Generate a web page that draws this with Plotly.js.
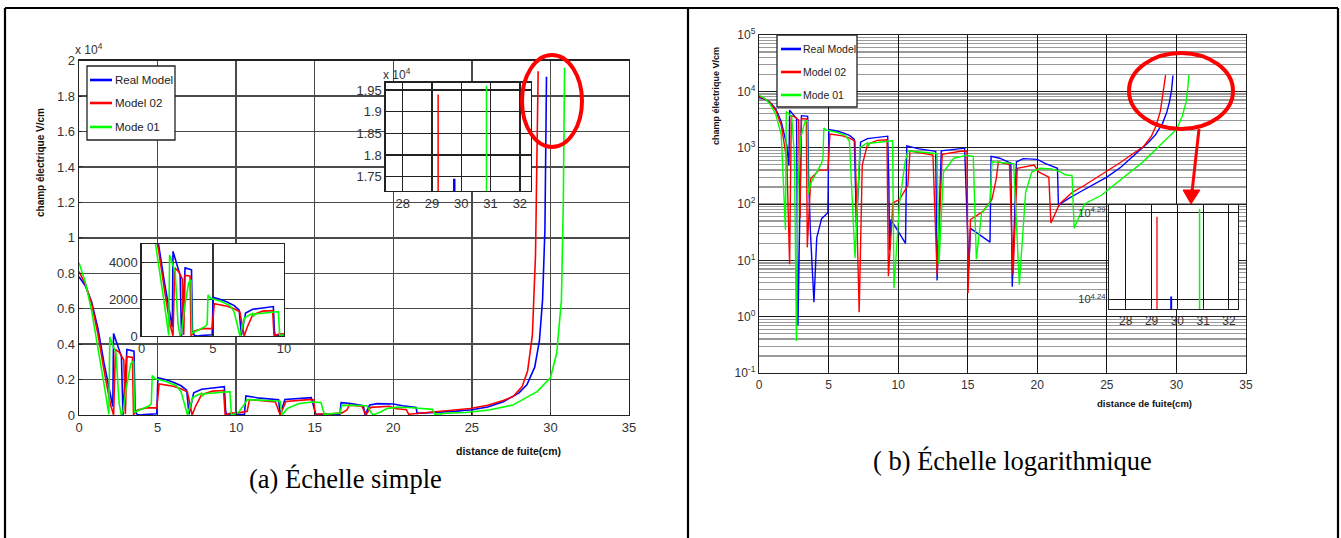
<!DOCTYPE html>
<html><head><meta charset="utf-8">
<script src="https://cdn.plot.ly/plotly-3.0.1.min.js"></script>
<style>html,body{margin:0;padding:0;background:#fff}#chart{width:1341px;height:538px}</style>
</head><body><div id="chart"></div>
<script>
// ---- data (distance de fuite in cm, champ électrique in V/cm) ----
const seriesNames = ['Real Model', 'Model 02', 'Mode 01'];
const seriesColors = ['#0000ff', '#ff0000', '#00ff00'];

const realX = [0,0.4,0.8,1.2,1.6,2.0,2.15,2.2,2.45,2.7,2.8,3.05,3.5,3.57,3.7,3.95,4.15,4.5,4.95,5.02,5.5,6.0,6.5,6.85,7.0,7.3,7.8,8.5,9.0,9.25,9.33,9.38,9.48,10.53,10.62,11.5,12.7,12.8,13.1,14.0,14.78,15.08,15.2,16.6,16.68,17.3,17.7,18.1,18.2,18.5,19.0,20.0,20.6,21.45,21.52,22.2,23.0,24.0,25.0,26.0,27.0,28.0,28.5,29.0,29.3,29.5,29.65,29.72,29.75];
const realY = [7800,7300,6400,4900,2900,1100,480,4600,3900,3300,0.7,3700,3600,250,30,1.8,25,55,70,2100,2000,1850,1650,1400,40,1250,1450,1520,1560,1600,250,15,53,20,1080,950,860,4.4,880,930,980,7.4,37,21,700,650,580,530,3.4,560,640,620,520,430,95,123,160,220,300,450,750,1250,1700,2700,4200,6500,10500,15000,19100];

const model02X = [0,0.4,0.8,1.2,1.6,2.0,2.2,2.32,2.6,2.85,2.95,3.05,3.4,3.47,3.72,4.3,4.95,5.1,6.0,6.5,6.9,7.2,7.42,7.8,8.5,9.2,9.3,9.63,10.1,10.7,10.85,12.5,12.8,13.17,14.6,14.95,15.02,15.2,16.1,16.74,17.05,17.2,18.0,18.26,18.56,19.77,20.1,20.83,20.98,21.6,22.5,23.4,24.9,26.0,27.0,27.64,28.2,28.55,28.85,29.05,29.15,29.22];
const model02Y = [8100,7400,6300,4600,2500,600,8.5,3700,3500,3100,56,3300,3250,17,280,400,400,1750,1620,1480,1300,1.2,490,1150,1350,1380,5.2,105,120,215,870,740,5.6,760,870,860,2.6,53,74,120,280,560,500,5.6,430,490,370,300,46,100,160,215,370,550,820,1050,1600,2500,4500,9000,14000,19400];

const mode01X = [0,0.4,0.8,1.2,1.6,1.9,1.96,2.15,2.35,2.55,2.69,2.8,3.0,3.3,3.47,3.53,3.75,4.1,4.48,4.6,4.66,4.85,5.5,6.2,6.5,6.9,7.25,7.8,7.85,7.95,9.0,9.6,9.7,10.1,10.5,10.7,12.0,12.8,12.93,13.26,14.0,14.9,15.4,15.62,16.0,16.6,16.74,17.5,18.3,18.71,19.16,19.6,20.2,21.0,21.6,22.0,22.5,22.65,23.4,24.6,26.1,27.6,29.15,30.0,30.4,30.7,30.82,30.9];
const mode01Y = [8600,7500,5900,3900,1700,35,4400,3950,3500,700,0.37,200,1500,2900,3050,150,240,350,520,650,2230,2050,1900,1650,1300,11,1000,1230,1050,1200,1300,1320,3.2,105,560,870,820,780,8.5,370,650,730,700,10.5,69,105,560,540,520,3.7,160,370,430,420,380,330,320,37,100,143,280,560,1320,2100,3500,6500,12000,19600];

// zoomed peaks shown in the small insets near 29-31 cm
const zoomRealX = [29.76, 29.76],    zoomRealY = [17000, 17450];
const zoomModel02X = [29.21, 29.21], zoomModel02Y = [17000, 19400];
const zoomMode01X = [30.86, 30.86],  zoomMode01Y = [17000, 19600];

// tick labels
const mainXTicks = [0,5,10,15,20,25,30,35];
const linYTickVals = [0,2000,4000,6000,8000,10000,12000,14000,16000,18000,20000];
const linYTickText = ['0','0.2','0.4','0.6','0.8','1','1.2','1.4','1.6','1.8','2'];
const inset1XTicks = [0,5,10];
const inset1YTicks = [0,2000,4000];
const zoomXTicks = [28,29,30,31,32];
const zoomYTickVals = [17500,18000,18500,19000,19500];
const zoomYTickText = ['1.75','1.8','1.85','1.9','1.95'];
const logTickVals = [0.1,1,10,100,1000,10000,100000];
const logTickText = ['10<sup>-1</sup>','10<sup>0</sup>','10<sup>1</sup>','10<sup>2</sup>','10<sup>3</sup>','10<sup>4</sup>','10<sup>5</sup>'];
const zoomLogTickVals = [Math.pow(10,4.24), Math.pow(10,4.29)];
const zoomLogTickText = ['10<sup>4.24</sup>','10<sup>4.29</sup>'];

// ---- layout helpers ----
const W = 1341, H = 538;
const px = x => x / W, py = y => 1 - y / H;
const NARROW = '"Liberation Sans Narrow", "Arial Narrow", "Liberation Sans", Arial, sans-serif';
const SANS = '"Liberation Sans", Arial, sans-serif';
const SERIF = '"Liberation Serif", "Times New Roman", serif';

function axis(extra) {
  return Object.assign({
    showgrid: true, gridcolor: '#4a4a4a', gridwidth: 1.3,
    showline: true, mirror: true, linecolor: '#222', linewidth: 1.3,
    zeroline: false, ticks: 'inside', ticklen: 3, tickcolor: '#222',
    tickfont: {family: NARROW, size: 13, color: '#333'},
    fixedrange: true, tickmode: 'array'
  }, extra);
}

const seriesX = [realX, model02X, mode01X];
const seriesY = [realY, model02Y, mode01Y];
const zoomX = [zoomRealX, zoomModel02X, zoomMode01X];
const zoomY = [zoomRealY, zoomModel02Y, zoomMode01Y];

const traces = [];
function addSet(xs, ys, xa, ya, width) {
  for (let i = 0; i < 3; i++) {
    traces.push({x: xs[i], y: ys[i], xaxis: xa, yaxis: ya, type: 'scatter', mode: 'lines',
      name: seriesNames[i], line: {color: seriesColors[i], width: width[i]}, hoverinfo: 'skip'});
  }
}
addSet(seriesX, seriesY, 'x', 'y', [1.6,1.6,1.6]);
addSet(seriesX, seriesY, 'x2', 'y2', [1.6,1.6,1.6]);
addSet(zoomX, zoomY, 'x3', 'y3', [2.5,1.5,1.5]);
addSet(seriesX, seriesY, 'x4', 'y4', [1.4,1.4,1.4]);
addSet(zoomX, zoomY, 'x5', 'y5', [2,1.3,1.5]);

const layout = {
  width: W, height: H, margin: {l:0, r:0, t:0, b:0},
  paper_bgcolor: '#fff', plot_bgcolor: '#fff', showlegend: false,
  xaxis: axis({domain: [px(79), px(629)], range: [0,35], tickvals: mainXTicks, anchor: 'y'}),
  yaxis: axis({domain: [py(415), py(60.7)], range: [0,20000], tickvals: linYTickVals, ticktext: linYTickText, anchor: 'x'}),
  xaxis2: axis({domain: [px(141.7), px(284)], range: [0,10], tickvals: inset1XTicks, anchor: 'y2', gridcolor:'#333'}),
  yaxis2: axis({domain: [py(336), py(244)], range: [0,5000], tickvals: inset1YTicks, anchor: 'x2', gridcolor:'#333'}),
  xaxis3: axis({domain: [px(385.7), px(531)], range: [27.42,32.38], tickvals: zoomXTicks, anchor: 'y3', gridcolor:'#222'}),
  yaxis3: axis({domain: [py(191), py(82.7)], range: [17170,19670], tickvals: zoomYTickVals, ticktext: zoomYTickText, anchor: 'x3', gridcolor:'#222'}),
  xaxis4: axis({domain: [px(759), px(1246)], range: [0,35], tickvals: mainXTicks, anchor: 'y4', gridcolor:'#111', gridwidth:1,
    tickfont:{family: NARROW, size: 12, color:'#333'}}),
  yaxis4: axis({domain: [py(373), py(35)], type: 'log', range: [-1,5], tickvals: logTickVals, ticktext: logTickText, anchor: 'x4',
    gridcolor:'#222', gridwidth:1, tickfont:{family: NARROW, size: 12, color:'#333'},
    minor: {dtick: 'D1', showgrid: true, gridcolor: '#9a9a9a', gridwidth: 1.2, ticks: ''}}),
  xaxis5: axis({domain: [px(1109), px(1238)], range: [27.35,32.35], tickvals: zoomXTicks, anchor: 'y5', gridcolor:'#111', gridwidth:1,
    tickfont:{family: NARROW, size: 12, color:'#333'}}),
  yaxis5: axis({domain: [py(309), py(205)], type: 'log', range: [4.2346,4.2945], tickvals: zoomLogTickVals, ticktext: zoomLogTickText, anchor: 'x5',
    gridcolor:'#111', gridwidth:1, tickfont:{family: NARROW, size: 11, color:'#333'}}),
  shapes: [], annotations: []
};

const S = layout.shapes, A = layout.annotations;
function pline(x0,y0,x1,y1,color,width) {
  S.push({type:'line', xref:'paper', yref:'paper', x0:px(x0), y0:py(y0), x1:px(x1), y1:py(y1), line:{color, width}, layer:'above'});
}
// table frame
pline(5,8,1338,8,'#000',2.2);
pline(5,8,5,538,'#000',2.2);
pline(688,8,688,538,'#000',2.2);
pline(1338,8,1338,538,'#000',2.2);

// red highlight ellipses
S.push({type:'circle', xref:'paper', yref:'paper', x0:px(522), x1:px(582), y0:py(147), y1:py(55), line:{color:'#ff0000', width:4}, layer:'above'});
S.push({type:'circle', xref:'paper', yref:'paper', x0:px(1129), x1:px(1233), y0:py(129), y1:py(53), line:{color:'#ff0000', width:4}, layer:'above'});
// arrow
pline(1199,129,1192,192,'#ff0000',3);
S.push({type:'path', xref:'paper', yref:'paper', path:`M ${px(1183)},${py(190)} L ${px(1200)},${py(190)} L ${px(1191)},${py(204)} Z`,
  fillcolor:'#ff0000', line:{color:'#ff0000', width:1}, layer:'above'});

// legends drawn manually
function legend(box, lineX0, lineX1, textX, ys, size) {
  S.push({type:'rect', xref:'paper', yref:'paper', x0:px(box[0]), x1:px(box[1]), y0:py(box[3]), y1:py(box[2]),
    fillcolor:'#fff', line:{color:'#222', width:1.3}, layer:'above'});
  for (let i = 0; i < 3; i++) {
    pline(lineX0, ys[i], lineX1, ys[i], seriesColors[i], 2.6);
    A.push({xref:'paper', yref:'paper', x:px(textX), y:py(ys[i]), xanchor:'left', yanchor:'middle', showarrow:false,
      text: seriesNames[i], font:{family: NARROW, size, color:'#222'}});
  }
}
legend([87,175,66,140], 90, 112, 113, [80,103,127], 11.5);
legend([777,857,35,107], 781, 801, 801, [49,72,95], 10.5);

function note(text, x, y, font, extra) {
  A.push(Object.assign({xref:'paper', yref:'paper', x:px(x), y:py(y), xanchor:'center', yanchor:'middle', showarrow:false, text, font}, extra||{}));
}
note('x 10<sup>4</sup>', 89, 49, {family: NARROW, size: 12, color:'#333'});
note('x 10<sup>4</sup>', 397, 74, {family: NARROW, size: 12, color:'#333'});
note('<b>champ électrique V/cm</b>', 41, 163, {family: SANS, size: 10, color:'#111'}, {textangle:-90});
note('<b>distance de fuite(cm)</b>', 508, 451, {family: SANS, size: 10.5, color:'#111'});
note('<b>champ électrique V/cm</b>', 716, 96, {family: SANS, size: 9, color:'#111'}, {textangle:-90});
note('<b>distance de fuite(cm)</b>', 1144, 403, {family: SANS, size: 9.5, color:'#111'});
note('(a) Échelle simple', 345, 479, {family: SERIF, size: 26.5, color:'#000'});
note('( b) Échelle logarithmique', 1012, 461, {family: SERIF, size: 26.5, color:'#000'});

Plotly.newPlot('chart', traces, layout, {staticPlot: true, displayModeBar: false});
</script>
</body></html>
